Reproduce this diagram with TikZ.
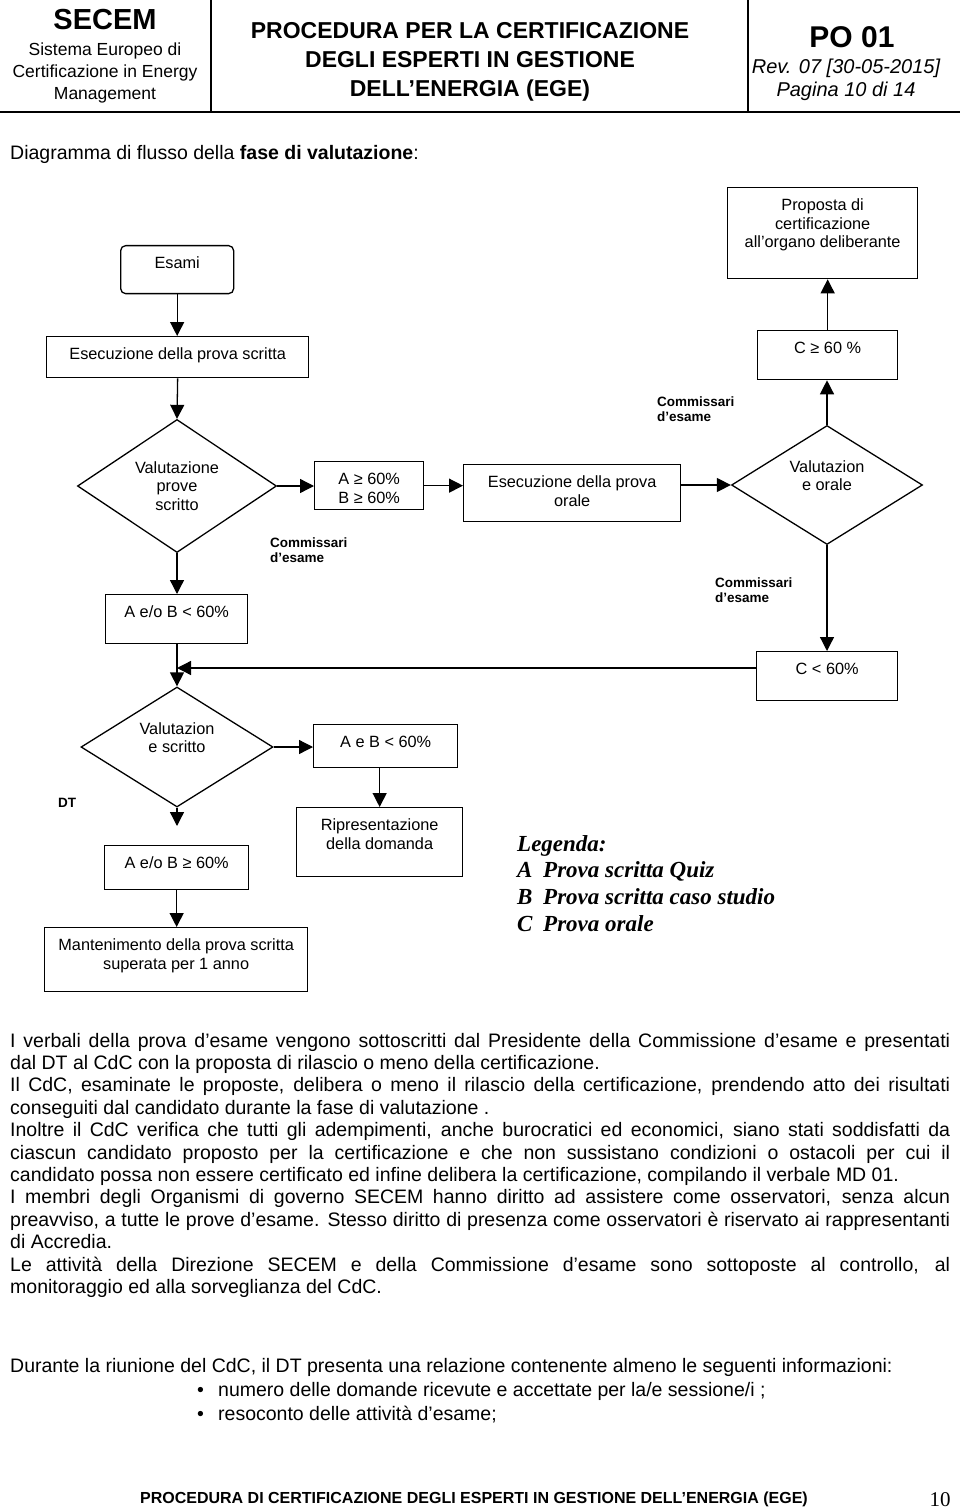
\documentclass[tikz,border=0pt]{standalone}
\usepackage{fontspec}
\setmainfont{Liberation Sans}
\newfontfamily\legfont{Liberation Serif}
\usetikzlibrary{arrows.meta,shapes.geometric}

\newcommand\bxtext[3]{\parbox[c][#2pt][t]{#1pt}{\centering\vspace*{10pt}\strut#3}}
\newcommand\dmtext[1]{\raisebox{12.6pt}{\parbox[t]{100pt}{\centering#1}}}

\tikzset{
 box/.style={draw,line width=1.3pt,inner sep=0pt,anchor=north west,font=\fontsize{16.3}{18.5}\selectfont},
 dia/.style={diamond,draw,line width=1.3pt,inner sep=0pt,text height=0pt,text depth=0pt,font=\fontsize{16.3}{18.5}\selectfont},
 arr/.style={line width=1.3pt,-{Triangle[width=14pt,length=14pt]}},
 comm/.style={inner sep=0pt,anchor=base west,font=\fontsize{13.5}{15.5}\selectfont\bfseries},
 txt/.style={inner sep=0pt,anchor=base west,font=\fontsize{19.5}{22.4}\selectfont},
 head/.style={inner sep=0pt,anchor=base}
}

\begin{document}
\begin{tikzpicture}[x=1pt,y=-1pt]
 \useasboundingbox (0,0) rectangle (960,1511);
 \draw[line width=1.2pt] (211,0) -- (211,112) (748,0) -- (748,112) (0,112) -- (960,112);
 \node[head,font=\fontsize{29}{32}\selectfont\bfseries] (secem) at (105,30) {SECEM};
 \node[head,font=\fontsize{17.5}{20}\selectfont] (ente1) at (105,56) {Sistema Europeo di};
 \node[head,font=\fontsize{17.5}{20}\selectfont] (ente2) at (105,78) {Certificazione in Energy};
 \node[head,font=\fontsize{17.5}{20}\selectfont] (ente3) at (105,100) {Management};
 \node[head,font=\fontsize{23}{26}\selectfont\bfseries] (tit1) at (470,39) {PROCEDURA PER LA CERTIFICAZIONE};
 \node[head,font=\fontsize{23}{26}\selectfont\bfseries] (tit2) at (470,68) {DEGLI ESPERTI IN GESTIONE};
 \node[head,font=\fontsize{23}{26}\selectfont\bfseries] (tit3) at (470,97) {DELL’ENERGIA (EGE)};
 \node[head,font=\fontsize{30}{32}\selectfont\bfseries] (po) at (852,48) {PO 01};
 \node[head,font=\fontsize{20}{22}\selectfont\itshape] (rev) at (846,74) {Rev. 07 [30-05-2015]};
 \node[head,font=\fontsize{20}{22}\selectfont\itshape] (pag) at (846,97) {Pagina 10 di 14};

 \node[txt] (intro) at (10,160) {Diagramma di flusso della \textbf{fase di valutazione}:};

 \node[box,rounded corners=5pt] (esami) at (120,245) {\bxtext{113}{48}{Esami}};
 \node[box] (scritta) at (46,336) {\bxtext{262}{41}{Esecuzione della prova scritta}};
 \node[box] (proposta) at (727,187) {\bxtext{190}{91}{Proposta di\\certificazione\\all’organo deliberante}};
 \node[box] (cok) at (757,330) {\bxtext{140}{49}{C ≥ 60 \%}};
 \node[dia,minimum width=199pt,minimum height=133pt] (valscritto) at (177,486) {\dmtext{Valutazione\\prove\\scritto}};
 \node[box] (abok) at (314,461) {\bxtext{109}{48}{A ≥ 60\%\\B ≥ 60\%}};
 \node[box] (orale) at (463,464) {\bxtext{217}{57}{Esecuzione della prova\\orale}};
 \node[dia,minimum width=191pt,minimum height=119pt] (valorale) at (827,485) {\dmtext{Valutazion\\e orale}};
 \node[box] (abko) at (105,594) {\bxtext{142}{49}{A e/o B < 60\%}};
 \node[box] (cko) at (756,651) {\bxtext{141}{49}{C < 60\%}};
 \node[dia,minimum width=192pt,minimum height=120pt] (valscritto2) at (177,747) {\dmtext{Valutazion\\e scritto}};
 \node[box] (abko2) at (313,724) {\bxtext{144}{43}{A e B < 60\%}};
 \node[box] (ripres) at (296,807) {\bxtext{166}{69}{Ripresentazione\\della domanda}};
 \node[box] (abok2) at (104,845) {\bxtext{144}{44}{A e/o B ≥ 60\%}};
 \node[box] (mant) at (44,927) {\bxtext{263}{64}{Mantenimento della prova scritta\\superata per 1 anno}};

 \node[comm] (comm1) at (657,406) {\parbox[t]{100pt}{\raggedright Commissari\\d’esame}};
 \node[comm] (comm2) at (270,547) {\parbox[t]{100pt}{\raggedright Commissari\\d’esame}};
 \node[comm] (comm3) at (715,587) {\parbox[t]{100pt}{\raggedright Commissari\\d’esame}};
 \node[comm] (dt) at (58,807) {DT};

 \coordinate (back) at (177,668);
 \coordinate (stop) at (177,826);

 \draw[arr] (esami.south) -- (esami.south |- scritta.north);
 \draw[arr] (scritta.south) -- (valscritto.north);
 \draw[arr] (valscritto.east) -- (valscritto.east -| abok.west);
 \draw[arr] (abok.east) -- (abok.east -| orale.west);
 \draw[arr] (valorale.west -| orale.east) -- (valorale.west);
 \draw[arr] (valorale.north) -- (valorale.north |- cok.south);
 \draw[arr] (cok.north) -- (cok.north |- proposta.south);
 \draw[arr] (valscritto.south) -- (valscritto.south |- abko.north);
 \draw[arr] (valscritto2.north |- abko.south) -- (valscritto2.north);
 \draw[arr] (cko.west |- back) -- (back);
 \draw[arr] (valorale.south) -- (valorale.south |- cko.north);
 \draw[arr] (valscritto2.east) -- (valscritto2.east -| abko2.west);
 \draw[arr] (ripres.north |- abko2.south) -- (ripres.north);
 \draw[arr] (valscritto2.south) -- (stop);
 \draw[arr] (abok2.south) -- (abok2.south |- mant.north);

 \node[inner sep=0pt,anchor=base west,font=\legfont\fontsize{23}{26.7}\selectfont\bfseries\itshape] (legenda) at (517,851)
  {\parbox[t]{320pt}{\raggedright Legenda:\\\makebox[26pt][l]{A}Prova scritta Quiz\\\makebox[26pt][l]{B}Prova scritta caso studio\\\makebox[26pt][l]{C}Prova orale}};

 \node[txt] (verbali) at (10,1047) {\parbox[t]{940pt}{\hyphenpenalty=10000
  I verbali della prova d’esame vengono sottoscritti dal Presidente della Commissione d’esame e presentati\linebreak
  dal DT al CdC con la proposta di rilascio o meno della certificazione.\par
  Il CdC, esaminate le proposte, delibera o meno il rilascio della certificazione, prendendo atto dei risultati\linebreak
  conseguiti dal candidato durante la fase di valutazione .\par
  Inoltre il CdC verifica che tutti gli adempimenti, anche burocratici ed economici, siano stati soddisfatti da\linebreak
  ciascun candidato proposto per la certificazione e che non sussistano condizioni o ostacoli per cui il\linebreak
  candidato possa non essere certificato ed infine delibera la certificazione, compilando il verbale MD 01.\par
  I membri degli Organismi di governo SECEM hanno diritto ad assistere come osservatori, senza alcun\linebreak
  preavviso, a tutte le prove d’esame. Stesso diritto di presenza come osservatori è riservato ai rappresentanti\linebreak
  di Accredia.\par
  Le attività della Direzione SECEM e della Commissione d'esame sono sottoposte al controllo, al\linebreak
  monitoraggio ed alla sorveglianza del CdC.}};

 \node[txt] (riunione) at (10,1372) {Durante la riunione del CdC, il DT presenta una relazione contenente almeno le seguenti informazioni:};
 \node[txt] (punto1) at (197,1396) {\makebox[21pt][l]{•}numero delle domande ricevute e accettate per la/e sessione/i ;};
 \node[txt] (punto2) at (197,1420) {\makebox[21pt][l]{•}resoconto delle attività d’esame;};

 \node[head,font=\fontsize{16}{18}\selectfont\bfseries] (piede) at (474,1503) {PROCEDURA DI CERTIFICAZIONE DEGLI ESPERTI IN GESTIONE DELL’ENERGIA (EGE)};
 \node[head,font=\legfont\fontsize{21}{24}\selectfont] (numpag) at (940,1506) {10};
\end{tikzpicture}
\end{document}
